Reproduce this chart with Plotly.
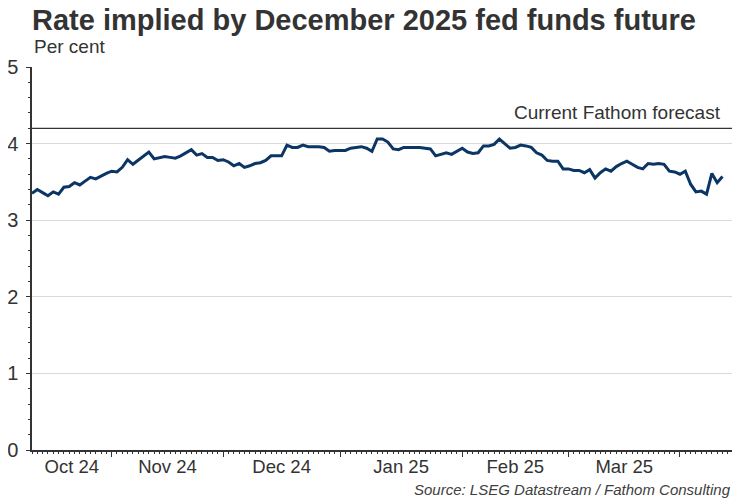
import pandas as pd
import plotly.graph_objects as go

# ---- data ----
start_date = "2024-10-11"
end_date = "2025-04-11"
dates = pd.bdate_range(start_date, end_date)

rate = [
    3.35, 3.40, 3.36, 3.32, 3.37, 3.34, 3.43, 3.44, 3.49, 3.46, 3.51, 3.56, 3.54, 3.58, 3.61, 3.64,
    3.63, 3.69, 3.79, 3.73, 3.78, 3.83, 3.89,
    3.80, 3.82, 3.83, 3.82, 3.81, 3.84, 3.88, 3.92, 3.85, 3.87, 3.82, 3.82, 3.78, 3.79, 3.76, 3.71,
    3.74, 3.69, 3.71, 3.74, 3.75, 3.78, 3.84, 3.84, 3.84, 3.98, 3.95, 3.95, 3.98, 3.96, 3.96, 3.96,
    3.95, 3.90, 3.91, 3.91, 3.91, 3.94, 3.95, 3.96, 3.94, 3.90,
    4.06, 4.06, 4.02, 3.93, 3.92, 3.95, 3.95, 3.95, 3.95, 3.94, 3.93, 3.84, 3.86, 3.88, 3.86, 3.90,
    3.94, 3.89, 3.87, 3.88, 3.97, 3.97, 3.99, 4.06, 4.00, 3.94, 3.95, 3.98, 3.97, 3.95, 3.88, 3.85,
    3.78, 3.77, 3.77, 3.67, 3.67, 3.65, 3.65, 3.62, 3.66, 3.55, 3.62, 3.67, 3.64, 3.70, 3.74, 3.77,
    3.73, 3.69, 3.67, 3.74, 3.73, 3.74, 3.73, 3.64, 3.63, 3.60, 3.64, 3.47, 3.37, 3.38, 3.34, 3.61,
    3.49, 3.57,
]

fathom_forecast = 4.2

# month boundaries (first business day of each month)
month_ticks = ["2024-11-01", "2024-12-02", "2025-01-01", "2025-02-03", "2025-03-03", "2025-04-01"]
# month label positions (centre of each visible month) and texts
label_pos = ["2024-10-22 12:00", "2024-11-15 12:00", "2024-12-17 00:00",
             "2025-01-16 12:00", "2025-02-17 00:00", "2025-03-17 12:00"]
label_text = ["Oct 24", "Nov 24", "Dec 24", "Jan 25", "Feb 25", "Mar 25"]

x_range = ["2024-10-11", "2025-04-14 19:00"]
y_ticks = [0, 1, 2, 3, 4, 5]

FONT = "Liberation Sans, Arial, sans-serif"
breaks = [dict(bounds=["sat", "mon"])]

# the page body has an 8px default margin, so the figure is laid out 8px up/left
fig = go.Figure()
fig.add_trace(go.Scatter(
    x=dates, y=rate, mode="lines",
    line=dict(color="#0b3565", width=3),
    showlegend=False, hoverinfo="x+y",
))
# same series, drawn with nothing, only so the label axis is rendered
fig.add_trace(go.Scatter(
    x=dates, y=rate, mode="none", xaxis="x2", yaxis="y",
    showlegend=False, hoverinfo="skip",
))

fig.add_shape(type="line", xref="paper", x0=0, x1=1, yref="y",
              y0=fathom_forecast, y1=fathom_forecast,
              line=dict(color="#333333", width=1.2), layer="below")

fig.update_layout(
    width=750, height=500,
    margin=dict(l=24, r=26, t=59, b=58),
    paper_bgcolor="white", plot_bgcolor="white",
    font=dict(family=FONT, color="#333333"),
    title=dict(text="Rate implied by December 2025 fed funds future",
               x=0, xref="paper", xanchor="left",
               y=1 - 12 / 500, yref="container", yanchor="middle",
               font=dict(size=29, family=FONT, weight=700, color="#333333")),
    xaxis=dict(
        type="date", range=x_range, rangebreaks=breaks,
        tickvals=month_ticks, showticklabels=False,
        ticks="outside", ticklen=5, tickwidth=1, tickcolor="#333333",
        minor=dict(dtick=86400000, ticks="outside", ticklen=2.5, tickwidth=1, tickcolor="#333333"),
        showline=True, linecolor="#333333", linewidth=1.5,
        showgrid=False, zeroline=False, fixedrange=True, automargin=False,
    ),
    xaxis2=dict(
        type="date", range=x_range, rangebreaks=breaks,
        overlaying="x", anchor="y", side="bottom",
        tickvals=label_pos, ticktext=label_text,
        ticks="", showline=False, showgrid=False, zeroline=False,
        ticklabelstandoff=3,
        tickfont=dict(size=18.5, family=FONT, color="#333333"), automargin=False,
    ),
    yaxis=dict(
        range=[0, 5], tickvals=y_ticks,
        ticks="outside", ticklen=4, tickcolor="#333333",
        minor=dict(dtick=0.2, ticks="outside", ticklen=2.5, tickcolor="#333333", showgrid=False),
        showgrid=True, gridcolor="#d9d9d9", gridwidth=1,
        showline=True, linecolor="#333333", linewidth=1.5,
        zeroline=False, automargin=False, ticklabelstandoff=4,
        tickfont=dict(size=20, family=FONT, color="#333333"),
    ),
)

fig.add_annotation(text="Per cent", xref="paper", yref="paper",
                   x=0, y=1 + 20 / 383, xanchor="left", yanchor="middle",
                   showarrow=False, font=dict(size=19, family=FONT, color="#333333"))
fig.add_annotation(text="Current Fathom forecast", xref="paper", yref="y",
                   x=(723 - 32) / 700, y=fathom_forecast, xanchor="right", yanchor="bottom",
                   yshift=3, showarrow=False, font=dict(size=19, family=FONT, color="#333333"))
fig.add_annotation(text="<i>Source: LSEG Datastream / Fathom Consulting</i>",
                   xref="paper", yref="paper", x=(733 - 32) / 700, y=(450 - 489) / 383,
                   xanchor="right", yanchor="middle", showarrow=False,
                   font=dict(size=15, family=FONT, color="#404040"))

fig.write_html("out.html")
